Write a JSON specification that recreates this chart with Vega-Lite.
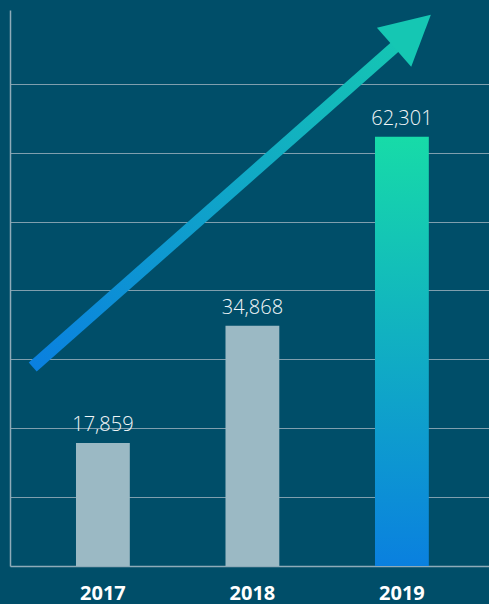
{
  "$schema": "https://vega.github.io/schema/vega-lite/v6.json",
  "width": 479,
  "height": 556,
  "autosize": {"type": "none"},
  "padding": {"left": 10, "top": 10, "right": 0, "bottom": 38},
  "background": "#004e69",
  "config": {"view": {"stroke": null}},
  "datasets": {
    "bars": [
      {"year": "2017", "value": 17859},
      {"year": "2018", "value": 34868},
      {"year": "2019", "value": 62301}
    ],
    "arrow": [
      {"part": "shaft", "t": 2016.53, "v": 28882},
      {"part": "shaft", "t": 2018.99, "v": 76052}
    ],
    "head": [
      {"part": "head", "t": 2019.07, "v": 77649}
    ]
  },
  "layer": [
    {
      "data": {"name": "bars"},
      "encoding": {
        "x": {
          "field": "year", "type": "nominal", "sort": ["2017", "2018", "2019"],
          "scale": {"domain": ["2017", "2018", "2019"], "paddingInner": 0.64, "paddingOuter": 0.422, "align": 0.523},
          "axis": {
            "title": null, "ticks": false, "domainColor": "#8eabb9", "domainWidth": 1.5,
            "labelColor": "#ffffff", "labelFont": "Open Sans", "labelFontSize": 20, "labelFontWeight": "bold",
            "labelAngle": 0, "labelBaseline": "alphabetic", "labelPadding": 33, "grid": false
          }
        },
        "y": {
          "field": "value", "type": "quantitative",
          "scale": {"domain": [0, 80700], "nice": false, "zero": true},
          "axis": {
            "title": null, "labels": false, "ticks": false, "domainColor": "#8eabb9", "domainWidth": 1.5,
            "grid": true, "gridColor": "#7f9fae", "gridWidth": 1.2,
            "values": [10000, 20000, 30000, 40000, 50000, 60000, 70000]
          }
        }
      },
      "layer": [
        {
          "transform": [{"filter": "datum.year !== '2019'"}],
          "mark": {"type": "bar", "fill": "#9bb9c4"}
        },
        {
          "transform": [{"filter": "datum.year === '2019'"}],
          "mark": {
            "type": "bar",
            "fill": {
              "gradient": "linear", "x1": 0, "y1": 1, "x2": 0, "y2": 0,
              "stops": [{"offset": 0, "color": "#0a80df"}, {"offset": 1, "color": "#17dba8"}]
            }
          }
        },
        {
          "mark": {"type": "text", "baseline": "alphabetic", "dy": -12, "font": "Open Sans", "fontSize": 20, "fontWeight": 300, "color": "#f2f6f8"},
          "encoding": {
            "text": {"field": "value", "type": "quantitative", "format": ","}
          }
        }
      ]
    },
    {
      "encoding": {
        "x": {"field": "t", "type": "quantitative", "scale": {"domain": [2016.378, 2019.582], "nice": false, "zero": false}, "axis": null},
        "y": {"field": "v", "type": "quantitative", "title": null}
      },
      "layer": [
        {
          "data": {"name": "arrow"},
          "mark": {
            "type": "line", "strokeWidth": 12, "strokeCap": "butt",
            "stroke": {
              "gradient": "linear", "x1": 0, "y1": 1, "x2": 1, "y2": 0,
              "stops": [{"offset": 0, "color": "#0a80e0"}, {"offset": 1, "color": "#15c6b3"}]
            }
          }
        },
        {
          "data": {"name": "head"},
          "mark": {
            "type": "point", "filled": true, "fill": "#15c7b3", "opacity": 1, "strokeWidth": 0,
            "shape": "M0,-1L1.06,1L-1.06,1Z", "size": 2401, "angle": 48.7
          }
        }
      ]
    }
  ],
  "resolve": {"scale": {"x": "independent"}, "axis": {"x": "independent"}}
}
